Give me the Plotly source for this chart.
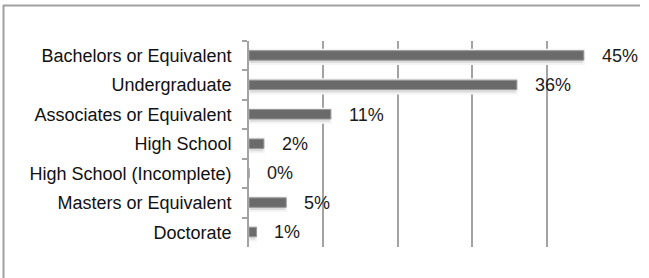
import plotly.graph_objects as go

categories = ["Bachelors or Equivalent", "Undergraduate", "Associates or Equivalent",
              "High School", "High School (Incomplete)", "Masters or Equivalent", "Doctorate"]
values = [45, 36, 11, 2, 0, 5, 1]
labels = ["45%", "36%", "11%", "2%", "0%", "5%", "1%"]

FONT = "Liberation Sans, Arial, sans-serif"

fig = go.Figure()
# soft shadow / halo beneath the bars
fig.add_trace(go.Bar(
    y=categories, x=values, orientation="h", width=0.48, offset=-0.2,
    marker=dict(color="#dcdcdc", line=dict(color="#f4f4f4", width=2)),
    hoverinfo="skip",
))
fig.add_trace(go.Bar(
    y=categories, x=values, orientation="h", width=0.32, offset=-0.17,
    marker=dict(color="#6a6a6a", line=dict(color="#949494", width=1)),
    hoverinfo="skip",
))

for c, v, t in zip(categories, values, labels):
    fig.add_annotation(x=v, y=c, text=t, showarrow=False, xanchor="left",
                       xshift=16, font=dict(family=FONT, size=18, color="#1a1a1a"))

fig.update_layout(
    width=649, height=278,
    margin=dict(l=249, r=28, t=41, b=31),
    paper_bgcolor="white", plot_bgcolor="white",
    showlegend=False, barmode="overlay",
    font=dict(family=FONT, size=18, color="#111111"),
    xaxis=dict(range=[0, 50], dtick=10, showgrid=True, gridcolor="#a3a3a3", gridwidth=1.8,
               showticklabels=False, zeroline=False, showline=False, ticks=""),
    yaxis=dict(autorange="reversed", showline=True, linecolor="#a3a3a3", linewidth=1.8,
               ticks="outside", tickson="boundaries", ticklen=5, tickcolor="#a3a3a3",
               tickwidth=1.5, ticklabelstandoff=12, showgrid=False,
               tickfont=dict(family=FONT, size=18, color="#111111")),
    shapes=[
        dict(type="line", xref="paper", yref="paper",
             x0=-246/372, x1=(640-249)/372, y0=(278-31-5.5)/206, y1=(278-31-5.5)/206,
             line=dict(color="#a0a0a0", width=2)),
        dict(type="line", xref="paper", yref="paper",
             x0=-245.5/372, x1=-245.5/372, y0=(278-31-5)/206, y1=-31/206,
             line=dict(color="#a0a0a0", width=2)),
    ],
)

fig.write_html("out.html", config={"displayModeBar": False},
               post_script="document.body.style.margin='0';document.body.style.padding='0';")
